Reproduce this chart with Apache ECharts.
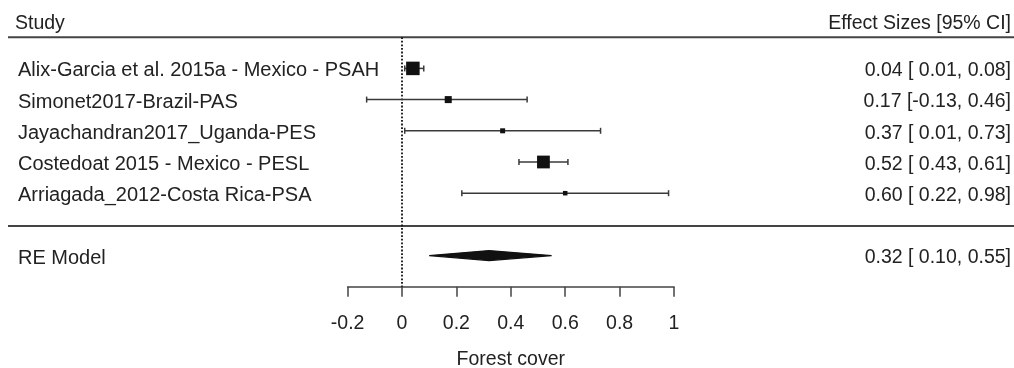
<!DOCTYPE html>
<html>
<head>
<meta charset="utf-8">
<script src="https://cdn.jsdelivr.net/npm/echarts@6/dist/echarts.min.js"></script>
<style>
  html, body { margin: 0; padding: 0; background: #fff; }
  #chart { width: 1014px; height: 368px; }
</style>
</head>
<body>
<div id="chart"></div>
<script>
// Studies in the meta-analysis (top to bottom)
const studies = [
  'Alix-Garcia et al. 2015a - Mexico - PSAH',
  'Simonet2017-Brazil-PAS',
  'Jayachandran2017_Uganda-PES',
  'Costedoat 2015 - Mexico - PESL',
  'Arriagada_2012-Costa Rica-PSA'
];
// Effect sizes with 95% confidence limits
const estimates = [0.04, 0.17, 0.37, 0.52, 0.60];
const lowerCI   = [0.01, -0.13, 0.01, 0.43, 0.22];
const upperCI   = [0.08, 0.46, 0.73, 0.61, 0.98];
// Random-effects weights (%)
const weights   = [26.1, 18.1, 15.6, 25.2, 15.0];

// Pooled random-effects model
const modelLabel = 'RE Model';
const modelEstimate = 0.32;
const modelLower = 0.10;
const modelUpper = 0.55;

// Column headers, axis title and tick labels
const headerLeft = 'Study';
const headerRight = 'Effect Sizes [95% CI]';
const axisTitle = 'Forest cover';
const tickValues = [-0.2, 0, 0.2, 0.4, 0.6, 0.8, 1];

// ---- layout helpers ----
const TEXT = '#222';
const LINE = '#3a3a3a';
const FONT = 'Liberation Sans, Arial, sans-serif';
const FS = 19.5;
const FS_LEFT = 20;

const MODEL_ROW = studies.length + 1;      // pooled row sits below a separator
const SEP_ROW = studies.length + 0.05;
const TOP_RULE_ROW = -1;
const HEADER_ROW = -1.5;
const TEXT_DY = 2.5;                       // text sits a little below the marker centre

const wMin = Math.min(...weights), wMax = Math.max(...weights);
const markerSize = w => 9 * (0.5 + (w - wMin) / (wMax - wMin));

// "est [lo, hi]" with lower/upper columns padded to a common width
const allLo = lowerCI.concat([modelLower]).map(v => v.toFixed(2));
const allHi = upperCI.concat([modelUpper]).map(v => v.toFixed(2));
const loW = Math.max(...allLo.map(s => s.length));
const hiW = Math.max(...allHi.map(s => s.length));
const ciText = (e, lo, hi) =>
  e.toFixed(2) + ' [' + lo.toFixed(2).padStart(loW, ' ') + ', ' + hi.toFixed(2).padStart(hiW, ' ') + ']';

const studyData = studies.map((s, i) => [estimates[i], lowerCI[i], upperCI[i], i, markerSize(weights[i])]);

const textRows = studies.map((s, i) => ({ row: i, left: s, right: ciText(estimates[i], lowerCI[i], upperCI[i]), lx: 18 }));
textRows.push({ row: MODEL_ROW, left: modelLabel, right: ciText(modelEstimate, modelLower, modelUpper), lx: 18 });
textRows.push({ row: HEADER_ROW, left: headerLeft, right: headerRight, lx: 15, header: true });

const chart = echarts.init(document.getElementById('chart'), null, { renderer: 'canvas' });

function renderStudy(params, api) {
  const est = api.value(0), lo = api.value(1), hi = api.value(2), row = api.value(3), s = api.value(4);
  const y = api.coord([0, row])[1];
  const xm = api.coord([est, row])[0];
  const xl = api.coord([lo, row])[0];
  const xh = api.coord([hi, row])[0];
  const ls = { stroke: LINE, lineWidth: 1.5 };
  return {
    type: 'group',
    children: [
      { type: 'line', shape: { x1: xl, y1: y, x2: xh, y2: y }, style: ls },
      { type: 'line', shape: { x1: xl, y1: y - 3, x2: xl, y2: y + 3 }, style: ls },
      { type: 'line', shape: { x1: xh, y1: y - 3, x2: xh, y2: y + 3 }, style: ls },
      { type: 'rect', shape: { x: xm - s / 2, y: y - s / 2, width: s, height: s }, style: { fill: '#111' } }
    ]
  };
}

function renderDiamond(params, api) {
  const row = api.value(3);
  const pc = api.coord([api.value(0), row]);
  const pl = api.coord([api.value(1), row]);
  const ph = api.coord([api.value(2), row]);
  const h = 5;
  return {
    type: 'polygon',
    shape: { points: [[pl[0], pl[1]], [pc[0], pc[1] - h], [ph[0], ph[1]], [pc[0], pc[1] + h]] },
    style: { fill: '#111', stroke: '#111', lineWidth: 1.2 }
  };
}

function renderText(params, api) {
  const item = textRows[params.dataIndex];
  const y = api.coord([0, item.row])[1] + TEXT_DY;
  const W = api.getWidth();
  const base = { fill: TEXT, fontFamily: FONT, verticalAlign: 'middle' };
  return {
    type: 'group',
    children: [
      { type: 'text', style: Object.assign({ text: item.left, x: item.lx, y: y, align: 'left', fontSize: item.header ? FS : FS_LEFT }, base) },
      { type: 'text', style: Object.assign({ text: item.right, x: W - 3, y: y, align: 'right', fontSize: FS }, base) }
    ]
  };
}

function renderRule(params, api) {
  const y = api.coord([0, api.value(0)])[1];
  return {
    type: 'line',
    shape: { x1: 8, y1: y, x2: api.getWidth(), y2: y },
    style: { stroke: '#444', lineWidth: 2 }
  };
}

function renderNullLine(params, api) {
  const p1 = api.coord([0, TOP_RULE_ROW]);
  const p2 = api.coord([0, 7]);
  return {
    type: 'line',
    shape: { x1: p1[0], y1: p1[1], x2: p2[0], y2: p2[1] },
    style: { stroke: '#111', lineWidth: 1.8, lineDash: [1.8, 1.8] }
  };
}

chart.setOption({
  animation: false,
  backgroundColor: '#fff',
  grid: { left: 347.6, width: 326.4, top: 6, height: 280.8, outerBoundsMode: 'none', containLabel: false },
  xAxis: {
    type: 'value',
    min: tickValues[0],
    max: tickValues[tickValues.length - 1],
    interval: 0.2,
    splitLine: { show: false },
    axisLine: { show: true, onZero: false, lineStyle: { color: '#444', width: 1.5 } },
    axisTick: { show: true, length: 10, lineStyle: { color: '#444', width: 1.5 } },
    axisLabel: {
      color: TEXT, fontSize: FS, fontFamily: FONT, margin: 27,
      formatter: v => String(Math.round(v * 10) / 10)
    },
    name: axisTitle,
    nameLocation: 'middle',
    nameGap: 63,
    nameTextStyle: { color: TEXT, fontSize: FS, fontFamily: FONT }
  },
  yAxis: { type: 'value', min: -2, max: 7, inverse: true, show: false },
  series: [
    { type: 'custom', renderItem: renderRule, data: [[TOP_RULE_ROW], [SEP_ROW]], silent: true },
    { type: 'custom', renderItem: renderNullLine, data: [[0]], silent: true },
    { type: 'custom', renderItem: renderStudy, data: studyData, silent: true },
    { type: 'custom', renderItem: renderDiamond, data: [[modelEstimate, modelLower, modelUpper, MODEL_ROW]], silent: true },
    { type: 'custom', renderItem: renderText, data: textRows.map(r => [r.row]), silent: true }
  ]
});
</script>
</body>
</html>
